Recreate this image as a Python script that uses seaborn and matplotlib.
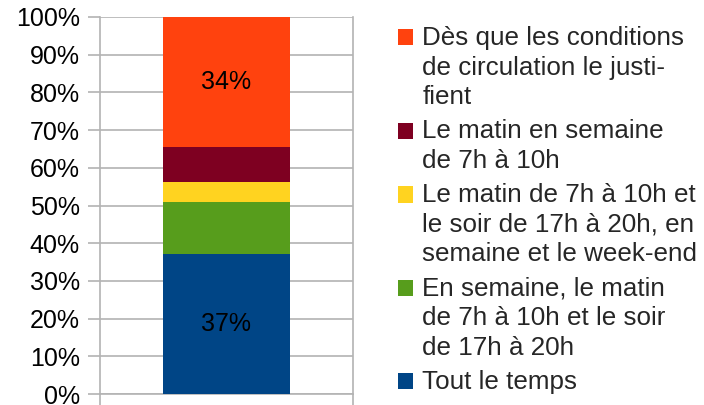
import matplotlib
matplotlib.use("Agg")
import matplotlib.pyplot as plt
import seaborn as sns
from matplotlib.patches import Rectangle
from matplotlib.legend_handler import HandlerPatch

# ---- data ----
category = [""]
series = [
    "Tout le temps",
    "En semaine, le matin\nde 7h à 10h et le soir\nde 17h à 20h",
    "Le matin de 7h à 10h et\nle soir de 17h à 20h, en\nsemaine et le week-end",
    "Le matin en semaine\nde 7h à 10h",
    "Dès que les conditions\nde circulation le justi-\nfient",
]
values = [37.1, 13.9, 5.3, 9.3, 34.4]
colors = ["#004586", "#579d1c", "#ffd320", "#7e0021", "#ff420e"]
show_label = [True, False, False, False, True]
yticks = [0, 10, 20, 30, 40, 50, 60, 70, 80, 90, 100]
ytick_labels = [f"{t}%" for t in yticks]

sns.set_theme(style="white")
plt.rcParams["font.family"] = ["Liberation Sans", "DejaVu Sans"]
FS = 18
LFS = 18.7
GRID = "#b3b3b3"

fig = plt.figure(figsize=(7.04, 4.05), dpi=100)
ax = fig.add_axes([100 / 704, 1 - 394 / 405, 253 / 704, 377 / 405])

bottom = 0.0
handles = []
for name, val, col, lab in zip(series, values, colors, show_label):
    sns.barplot(x=category, y=[val], bottom=bottom, color=col, width=0.5,
                saturation=1, ax=ax, zorder=3, linewidth=0, edgecolor=col)
    cont = ax.containers[-1]
    if lab:
        ax.bar_label(cont, labels=[f"{val:.0f}%"], label_type="center",
                     fontsize=FS, color="black")
    handles.append(Rectangle((0, 0), 1, 1, facecolor=col, edgecolor="none"))
    bottom += val

ax.set_ylim(0, 100)
ax.set_xlim(-0.5, 0.5)
ax.set_yticks(yticks)
ax.set_yticklabels(ytick_labels)
ax.set_xticks([-0.5, 0.5])
ax.set_xticklabels(["", ""])
ax.set_xlabel("")
ax.set_ylabel("")
ax.yaxis.grid(True, color=GRID, linewidth=1.2, zorder=0)
ax.set_axisbelow(True)
ax.tick_params(axis="y", length=8.5, width=1.2, color=GRID, labelsize=FS,
               pad=6, labelcolor="black", direction="out", left=True)
ax.tick_params(axis="x", length=9, width=1.2, color=GRID, direction="out", bottom=True)
for side in ["left", "right", "bottom"]:
    ax.spines[side].set_visible(True)
    ax.spines[side].set_color(GRID)
    ax.spines[side].set_linewidth(1.2)
ax.spines["top"].set_visible(False)


class ShiftedHandler(HandlerPatch):
    def create_artists(self, legend, orig_handle, xdescent, ydescent, width,
                       height, fontsize, trans):
        r = Rectangle((-xdescent, -ydescent - 0.12 * fontsize), width, height,
                      facecolor=orig_handle.get_facecolor(), edgecolor="none",
                      transform=trans)
        return [r]


leg = fig.legend(handles[::-1], series[::-1], loc="upper left",
                 bbox_to_anchor=(398 / 704, 1 - 26 / 405), frameon=False,
                 fontsize=LFS, handlelength=0.58, handleheight=0.58,
                 handletextpad=0.36, labelspacing=0.40, borderpad=0,
                 borderaxespad=0,
                 handler_map={Rectangle: ShiftedHandler()})
for t in leg.get_texts():
    t.set_linespacing(1.29)
for hp in leg._legend_handle_box.get_children()[0].get_children():
    hp.align = "top"

fig.savefig("out.png", dpi=100)
